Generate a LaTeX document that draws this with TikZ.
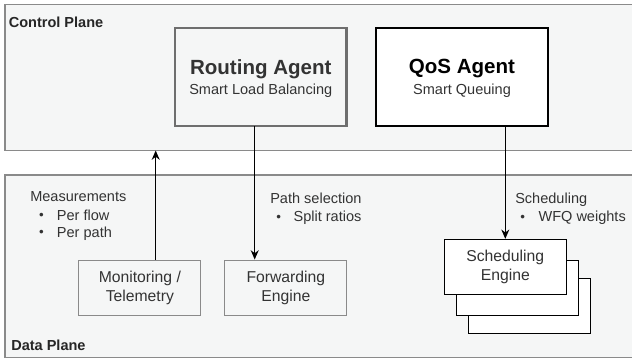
\documentclass[tikz,border=0pt]{standalone}
\usepackage{fontspec}
\setmainfont{Liberation Sans}
\usetikzlibrary{arrows.meta}
\definecolor{planefill}{HTML}{F5F6F6}
\definecolor{planeline}{HTML}{8A8A8A}
\definecolor{agentline}{HTML}{6E6E6E}
\definecolor{textgray}{HTML}{333333}
\begin{document}
\begin{tikzpicture}[x=0.75pt,y=-0.75pt,
  plane/.style={draw=planeline,fill=planefill,line width=1pt},
  engbox/.style={draw=planeline,fill=planefill,line width=0.8pt,align=center,
    minimum width=91.5pt,minimum height=41.5pt,inner sep=0pt,font=\fontsize{11.8pt}{14.5pt}\selectfont,text=textgray},
  schedbox/.style={draw=black,fill=white,line width=0.8pt,align=center,
    minimum width=91.5pt,minimum height=41pt,inner sep=0pt,font=\fontsize{11.8pt}{14.5pt}\selectfont,text=textgray},
  note/.style={anchor=north west,inner sep=0pt,align=left,font=\fontsize{10.9pt}{13.5pt}\selectfont,text=textgray},
  dot/.style={text=textgray,inner sep=0pt,font=\fontsize{10pt}{10pt}\selectfont},
  planelabel/.style={anchor=west,inner sep=0pt,font=\fontsize{10.9pt}{13pt}\selectfont\bfseries,text=black!85},
  link/.style={draw=black,line width=0.75pt,-{Stealth[length=7pt,width=6pt]}}]
\useasboundingbox (0,0) rectangle (632,362);

% planes
\draw[plane] (5,4.5) rectangle (640,150.5);
\draw[plane] (5,175) rectangle (640,357.5);
\node[planelabel] (cpl) at (8.5,22) {Control Plane};
\node[planelabel] (dpl) at (11,345) {Data Plane};

% agents
\draw[draw=agentline,fill=planefill,line width=1.6pt] (175,28) rectangle (346.5,126);
\node[inner sep=0pt,text=textgray,font=\fontsize{15.4pt}{18pt}\selectfont\bfseries] (rat) at (260.75,69) {Routing Agent};
\node[inner sep=0pt,text=textgray,font=\fontsize{10.9pt}{13pt}\selectfont] (ras) at (260.75,90.5) {Smart Load Balancing};

\draw[draw=black,fill=white,line width=1.6pt] (376,28) rectangle (548,126);
\node[inner sep=0pt,text=black,font=\fontsize{15.4pt}{18pt}\selectfont\bfseries] (qat) at (462,69) {QoS Agent};
\node[inner sep=0pt,text=textgray,font=\fontsize{10.9pt}{13pt}\selectfont] (qas) at (462,90.5) {Smart Queuing};
\coordinate (raB) at (254.7,126);
\coordinate (qaB) at (505.3,126);
\coordinate (cpB) at (155.7,150.5);

% data plane boxes
\node[engbox] (mon) at (139.85,287.7) {Monitoring /\\Telemetry};
\node[engbox] (fwd) at (285.85,287.7) {Forwarding\\Engine};

\node[schedbox] (s3) at (529.5,306) {};
\node[schedbox] (s2) at (517.5,288) {};
\node[schedbox] (s1) at (505.3,266.7) {Scheduling\\Engine};

% annotations
\node[note] (meas) at (30,191) {Measurements};
\node[note] (m1) at (56.7,209.5) {Per flow};
\node[note] (m2) at (56.7,227) {Per path};
\node[dot] (b1) at (41.5,216) {•};
\node[dot] (b2) at (41.5,233.5) {•};

\node[note] (ps) at (270,193) {Path selection};
\node[note] (ps1) at (293.3,211) {Split ratios};
\node[dot] (b3) at (278.8,218) {•};

\node[note] (sc) at (515,193) {Scheduling};
\node[note] (sc1) at (538.3,211) {WFQ weights};
\node[dot] (b4) at (522.8,218) {•};

% connectors
\draw[link] (mon.north -| cpB) -- (cpB);
\draw[link] (raB) -- (raB |- fwd.north);
\draw[link] (qaB) -- (qaB |- s1.north);
\end{tikzpicture}
\end{document}
